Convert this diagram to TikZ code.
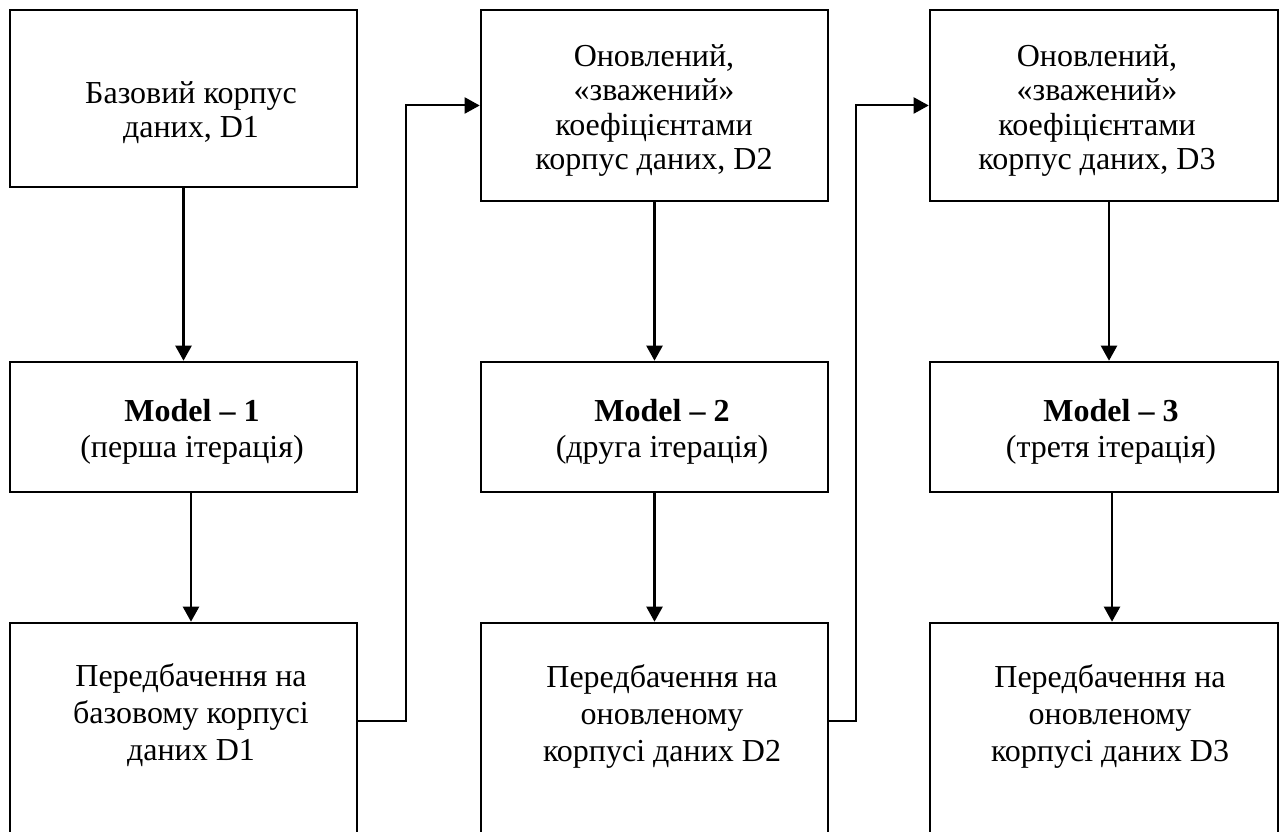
\documentclass[tikz,border=0pt]{standalone}
\usepackage{fontspec}
\setmainfont{Liberation Serif}
\usetikzlibrary{arrows.meta}
\begin{document}
\begin{tikzpicture}[x=1pt,y=1pt,
  box/.style={draw, line width=2.6pt, inner sep=0pt, minimum width=347pt},
  txt/.style={align=center, inner sep=0pt, font=\fontsize{32}{34.5}\selectfont},
  flow/.style={line width=2.3pt, -{Triangle[width=16pt,length=15pt]}},
  link/.style={line width=2pt, -{Triangle[width=16pt,length=15pt]}}]
\useasboundingbox (0,0) rectangle (1281,831);
\clip (0,0) rectangle (1281,831);

% top row: data sets
\node[box, minimum height=177pt] (b1) at (183.5,732.5) {};
\node[box, minimum height=191pt] (b2) at (654.5,725.5) {};
\node[box, minimum width=348pt, minimum height=191pt] (b3) at (1104,725.5) {};

% middle row: models
\node[box, minimum height=130pt] (m1) at (183.5,404) {};
\node[box, minimum height=130pt] (m2) at (654.5,404) {};
\node[box, minimum width=348pt, minimum height=130pt] (m3) at (1104,404) {};

% bottom row: predictions (open towards the lower edge)
\node[box, minimum height=238pt] (p1) at (183.5,89) {};
\node[box, minimum height=238pt] (p2) at (654.5,89) {};
\node[box, minimum width=348pt, minimum height=238pt] (p3) at (1104,89) {};

% labels
\node[txt] (b1t) at (191,718.5) {Базовий корпус\\даних, D1};
\node[txt] (b2t) at (654,720.5) {Оновлений,\\«зважений»\\коефіцієнтами\\корпус даних, D2};
\node[txt] (b3t) at (1097,720.5) {Оновлений,\\«зважений»\\коефіцієнтами\\корпус даних, D3};

\node[txt, font=\fontsize{32}{36}\selectfont] (m1t) at (192,399.5) {\textbf{Model – 1}\\(перша ітерація)};
\node[txt, font=\fontsize{32}{36}\selectfont] (m2t) at (662,399.5) {\textbf{Model – 2}\\(друга ітерація)};
\node[txt, font=\fontsize{32}{36}\selectfont] (m3t) at (1111,399.5) {\textbf{Model – 3}\\(третя ітерація)};

\node[txt, font=\fontsize{32}{37}\selectfont] (p1t) at (191,116) {Передбачення на\\базовому корпусі\\даних D1};
\node[txt, font=\fontsize{32}{37}\selectfont] (p2t) at (662,115) {Передбачення на\\оновленому\\корпусі даних D2};
\node[txt, font=\fontsize{32}{37}\selectfont] (p3t) at (1110,115) {Передбачення на\\оновленому\\корпусі даних D3};

% vertical flow
\draw[flow] (b1.south) -- (m1.north);
\draw[flow] ([xshift=7.5pt]m1.south) -- ([xshift=7.5pt]p1.north);
\draw[flow] (b2.south) -- (m2.north);
\draw[flow] (m2.south) -- (p2.north);
\draw[flow] ([xshift=5pt]b3.south) -- ([xshift=5pt]m3.north);
\draw[flow] ([xshift=8pt]m3.south) -- ([xshift=8pt]p3.north);

% feedback into the next weighted data set
\draw[link] ([yshift=-99pt]p1.north east) -- ++(48,0) |- (b2.west);
\draw[link] ([yshift=-99pt]p2.north east) -- ++(27,0) |- (b3.west);
\end{tikzpicture}
\end{document}
